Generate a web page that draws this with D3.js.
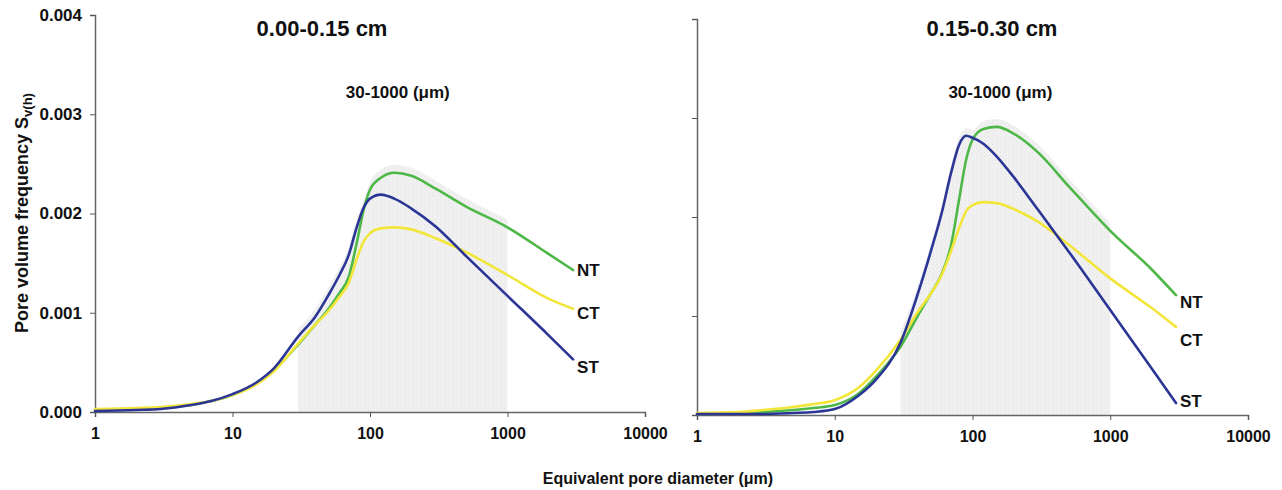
<!DOCTYPE html>
<html>
<head>
<meta charset="utf-8">
<script src="https://cdn.jsdelivr.net/npm/d3@7"></script>
<style>
  body { margin: 0; background: #fff; }
  svg { display: block; font-family: Arial, "Liberation Sans", sans-serif; }
</style>
</head>
<body>
<div class="chart"></div>
<script>
// pore diameters (µm) where curves were read
var diam = [1, 2, 3, 5, 7, 10, 15, 20, 30, 40, 50, 60, 70, 80, 90, 100, 120, 150, 200, 300, 500, 1000, 2000, 3000];

// 0.00-0.15 cm
var ntTop = [0.00002, 0.00003, 0.00004, 0.00007, 0.00011, 0.00017, 0.00029, 0.00042, 0.00068, 0.00088, 0.00104, 0.00120, 0.00136, 0.00170, 0.00204, 0.00224, 0.00236, 0.00241, 0.00238, 0.00225, 0.00207, 0.00186, 0.00159, 0.00143];
var ctTop = [0.00003, 0.00004, 0.00005, 0.00008, 0.00011, 0.00017, 0.00028, 0.00041, 0.00069, 0.00088, 0.00102, 0.00116, 0.00130, 0.00154, 0.00172, 0.00180, 0.00185, 0.00186, 0.00184, 0.00175, 0.00161, 0.00138, 0.00114, 0.00104];
var stTop = [0.00001, 0.00002, 0.00003, 0.00007, 0.00011, 0.00018, 0.00030, 0.00044, 0.00076, 0.00096, 0.00118, 0.00138, 0.00158, 0.00186, 0.00206, 0.00215, 0.00219, 0.00215, 0.00205, 0.00187, 0.00157, 0.00117, 0.00077, 0.00053];

// 0.15-0.30 cm
var ntSub = [0.00001, 0.00002, 0.00003, 0.00005, 0.00007, 0.00010, 0.00022, 0.00039, 0.00069, 0.00100, 0.00123, 0.00143, 0.00172, 0.00218, 0.00258, 0.00278, 0.00289, 0.00291, 0.00284, 0.00265, 0.00231, 0.00186, 0.00147, 0.00121];
var ctSub = [0.00002, 0.00003, 0.00005, 0.00008, 0.00011, 0.00015, 0.00028, 0.00045, 0.00076, 0.00104, 0.00123, 0.00142, 0.00166, 0.00189, 0.00206, 0.00212, 0.00215, 0.00214, 0.00208, 0.00195, 0.00172, 0.00138, 0.00108, 0.00089];
var stSub = [0.00001, 0.00001, 0.00001, 0.00002, 0.00003, 0.00006, 0.00020, 0.00036, 0.00073, 0.00122, 0.00166, 0.00205, 0.00245, 0.00273, 0.00282, 0.00280, 0.00274, 0.00261, 0.00240, 0.00207, 0.00165, 0.00106, 0.00047, 0.00012];

var seriesNames = ["NT", "CT", "ST"];
var seriesColors = ["#4db848", "#f2e63a", "#2b3596"];
var yTicks = [0, 0.001, 0.002, 0.003, 0.004];
var xTickLabels = [1, 10, 100, 1000, 10000];
var rangeLow = 30, rangeHigh = 1000;

var width = 1282, height = 490;
var svg = d3.select(".chart").append("svg").attr("width", width).attr("height", height);

// light textured fill for the 30-1000 band
var defs = svg.append("defs");
var pat = defs.append("pattern").attr("id", "grain").attr("width", 4).attr("height", 4).attr("patternUnits", "userSpaceOnUse");
pat.append("rect").attr("width", 4).attr("height", 4).attr("fill", "#f0f0f0");
pat.append("rect").attr("x", 0).attr("y", 0).attr("width", 1).attr("height", 1).attr("fill", "#e4e4e4");
pat.append("rect").attr("x", 2).attr("y", 2).attr("width", 1).attr("height", 1).attr("fill", "#e6e6e6");
pat.append("rect").attr("x", 3).attr("y", 1).attr("width", 1).attr("height", 1).attr("fill", "#f7f7f7");

var panels = [
  { title: "0.00-0.15 cm", series: [ntTop, ctTop, stTop], x0: 95, x1: 645, y0: 412, y1: 15, labels: true, titleX: 322, labelDy: [0, 4, 8] },
  { title: "0.15-0.30 cm", series: [ntSub, ctSub, stSub], x0: 697, x1: 1248, y0: 415, y1: 19, labels: false, titleX: 992, labelDy: [7, 13, -2] }
];

panels.forEach(function (p) { drawPanel(p); });

function drawPanel(p) {
  var x = d3.scaleLog().domain([1, 10000]).range([p.x0, p.x1]);
  var y = d3.scaleLinear().domain([0, 0.004]).range([p.y0, p.y1]);
  var g = svg.append("g");

  // shaded band: envelope just above the curves inside 30-1000
  var band = [];
  diam.forEach(function (d, i) {
    if (d >= rangeLow && d <= rangeHigh) {
      band.push({ d: d, v: d3.max(p.series, function (s) { return s[i]; }) + 0.00008 });
    }
  });
  var area = d3.area()
    .curve(d3.curveMonotoneX)
    .x(function (b) { return x(b.d); })
    .y0(y(0))
    .y1(function (b) { return y(b.v); });
  g.append("path").datum(band).attr("d", area).attr("fill", "url(#grain)");

  // y axis
  var yAxis = d3.axisLeft(y).tickValues(yTicks).tickSize(5).tickPadding(8)
    .tickFormat(p.labels ? d3.format(".3f") : "");
  var ya = g.append("g").attr("transform", "translate(" + p.x0 + ",0)").call(yAxis);
  ya.select(".domain").attr("stroke", "#666").attr("stroke-width", 1.5);
  ya.selectAll(".tick line").attr("stroke", "#555");
  ya.selectAll("text").attr("font-size", 17).attr("font-weight", "bold").attr("fill", "#111")
    .attr("font-family", "Arial, 'Liberation Sans', sans-serif");

  // x axis
  var xAxis = d3.axisBottom(x).ticks(4).tickSize(5).tickPadding(11)
    .tickFormat(function (d) { return xTickLabels.indexOf(d) >= 0 ? d : ""; });
  var xa = g.append("g").attr("transform", "translate(0," + p.y0 + ")").call(xAxis);
  xa.select(".domain").attr("stroke", "#666").attr("stroke-width", 1.5);
  xa.selectAll(".tick line").attr("stroke", "#555");
  xa.selectAll("text").attr("font-size", 16).attr("font-weight", "bold").attr("fill", "#111")
    .attr("font-family", "Arial, 'Liberation Sans', sans-serif");

  // curves
  var line = d3.line()
    .curve(d3.curveMonotoneX)
    .x(function (d, i) { return x(diam[i]); })
    .y(function (d) { return y(d); });
  p.series.forEach(function (s, k) {
    g.append("path").datum(s).attr("d", line)
      .attr("fill", "none").attr("stroke", seriesColors[k])
      .attr("stroke-width", 2.6).attr("stroke-linejoin", "round").attr("stroke-linecap", "round");
    var last = s.length - 1;
    g.append("text")
      .attr("x", x(diam[last]) + 4)
      .attr("y", y(s[last]) + p.labelDy[k])
      .attr("dy", "0.35em")
      .attr("font-size", 17).attr("font-weight", "bold").attr("fill", "#111")
      .text(seriesNames[k]);
  });

  // titles
  g.append("text").attr("x", p.titleX).attr("y", 36).attr("text-anchor", "middle")
    .attr("font-size", 22).attr("font-weight", "bold").attr("fill", "#111").text(p.title);
  g.append("text").attr("x", (x(rangeLow) + x(rangeHigh)) / 2 - 5).attr("y", 98)
    .attr("text-anchor", "middle").attr("font-size", 17).attr("font-weight", "bold").attr("fill", "#111")
    .text("30-1000 (\u03bcm)");
}

// axis titles
var yt = svg.append("text")
  .attr("transform", "translate(28,213) rotate(-90)")
  .attr("text-anchor", "middle").attr("font-size", 18).attr("font-weight", "bold").attr("fill", "#111");
yt.append("tspan").text("Pore volume frequency S");
yt.append("tspan").attr("font-size", 13).attr("dy", 4).text("v(h)");

svg.append("text").attr("x", 658).attr("y", 484).attr("text-anchor", "middle")
  .attr("font-size", 16).attr("font-weight", "bold").attr("fill", "#111")
  .text("Equivalent pore diameter (\u03bcm)");
</script>
</body>
</html>
